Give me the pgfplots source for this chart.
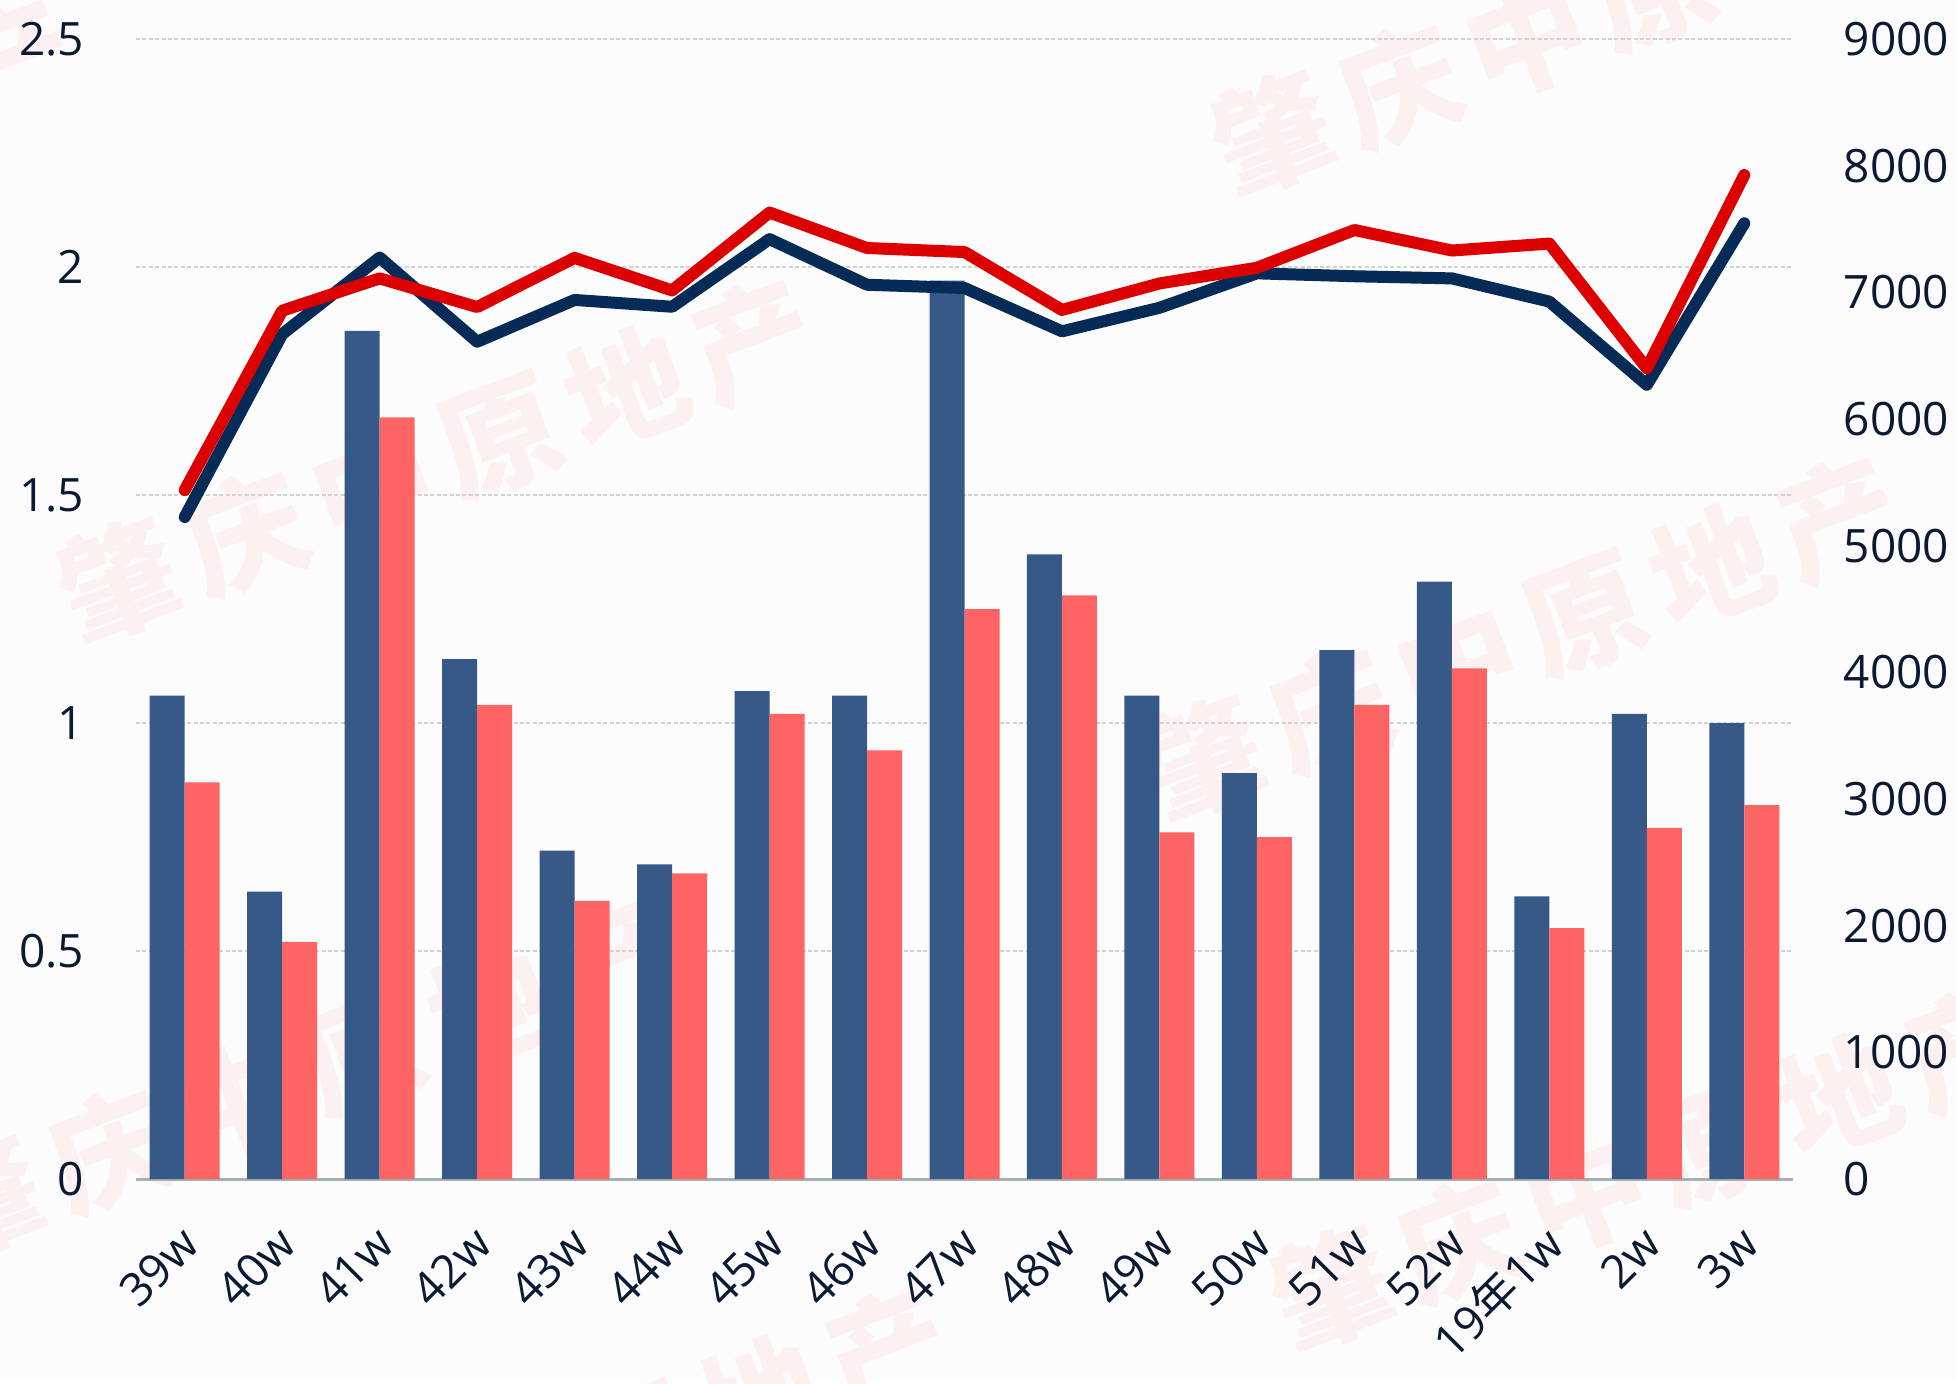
\documentclass[border=0pt]{standalone}
\usepackage{pgfplots}
\pgfplotsset{compat=1.18}
\usepackage{pgfplotstable}
\usepackage{fontspec}
\setmainfont{Open Sans}
\newfontfamily\cjk{Noto Sans CJK SC}
\newfontfamily\wmfont[LetterSpace=13]{Noto Sans CJK SC}
\definecolor{bgc}{HTML}{FCFCFC}
\definecolor{barblue}{HTML}{365987}
\definecolor{barred}{HTML}{FF6464}
\definecolor{linenavy}{HTML}{062B57}
\definecolor{linered}{HTML}{DD0000}
\definecolor{txt}{HTML}{0B1A33}
\definecolor{axgray}{HTML}{A6B0B0}
\definecolor{gridgray}{HTML}{D2D2D2}
\definecolor{wm}{RGB}{252,240,240}

\pgfplotstableread{
x blue red
0 1.06 0.87
1 0.63 0.52
2 1.86 1.67
3 1.14 1.04
4 0.72 0.61
5 0.69 0.67
6 1.07 1.02
7 1.06 0.94
8 1.97 1.25
9 1.37 1.28
10 1.06 0.76
11 0.89 0.75
12 1.16 1.04
13 1.31 1.12
14 0.62 0.55
15 1.02 0.77
16 1.00 0.82
}\bars

\pgfplotstableread{
x navy red
0 5226 5439
1 6670 6855
2 7275 7110
3 6610 6884
4 6940 7272
5 6886 7015
6 7420 7630
7 7060 7350
8 7034 7318
9 6692 6861
10 6878 7070
11 7150 7194
12 7127 7492
13 7110 7330
14 6927 7385
15 6270 6400
16 7545 7926
}\lines

\begin{document}
\begin{tikzpicture}
\fill[bgc] (0,0) rectangle (489pt,345.75pt);
% watermark
\foreach \px/\py in {109/230.5, 380.25/186, 412.25/53.5, 75/76, 397.5/342.25, 142.5/-21.75, -76.25/300.5}{
  \node[rotate=20.7, text=wm, inner sep=0pt] at (\px pt,\py pt) {\wmfont\bfseries\fontsize{30}{30}\selectfont 肇庆中原地产};
}
\begin{axis}[
  at={(34pt,51pt)}, anchor=south west,
  width=414.25pt, height=285pt, scale only axis,
  xmin=-0.5, xmax=16.5, ymin=0, ymax=2.5,
  axis x line*=bottom, axis y line*=left,
  x axis line style={draw=axgray, line width=0.75pt, -},
  y axis line style={draw=none},
  major tick length=0pt,
  ytick={0,0.5,1,1.5,2,2.5},
  xtick={0,...,16},
  xticklabels={39w,40w,41w,42w,43w,44w,45w,46w,47w,48w,49w,50w,51w,52w,{19{\cjk 年}1w},2w,3w},
  ymajorgrids,
  grid style={draw=gridgray, line width=0.35pt, dash pattern=on 1pt off 0.6pt},
  ybar=0pt, bar width=8.75pt,
  tick label style={font=\fontsize{11.5}{13}\selectfont, text=txt},
  /pgf/number format/assume math mode=true,
  yticklabel style={inner sep=0pt, xshift=-12.75pt},
  xticklabel style={inner sep=0pt, xshift=1.5pt, yshift=-14pt, rotate=45, anchor=east},
  clip=false,
]
\addplot[fill=barblue, draw=none] table[x=x, y=blue] {\bars};
\addplot[fill=barred, draw=none] table[x=x, y=red] {\bars};
\end{axis}
\begin{axis}[
  at={(34pt,51pt)}, anchor=south west,
  width=414.25pt, height=285pt, scale only axis,
  xmin=-0.5, xmax=16.5, ymin=0, ymax=9000,
  axis x line=none, axis y line*=right,
  y axis line style={draw=none},
  major tick length=0pt,
  ytick={0,1000,2000,3000,4000,5000,6000,7000,8000,9000},
  tick label style={font=\fontsize{11.5}{13}\selectfont, text=txt},
  /pgf/number format/assume math mode=true,
  /pgf/number format/1000 sep={},
  yticklabel style={inner sep=0pt, xshift=12.5pt},
  clip=false,
]
\addplot[linenavy, line width=3pt, line cap=round, line join=round] table[x=x, y=navy] {\lines};
\addplot[linered, line width=3pt, line cap=round, line join=round] table[x=x, y=red] {\lines};
\end{axis}
\pgfresetboundingbox
\path[use as bounding box] (0,0) rectangle (489pt,345.75pt);
\end{tikzpicture}
\end{document}
